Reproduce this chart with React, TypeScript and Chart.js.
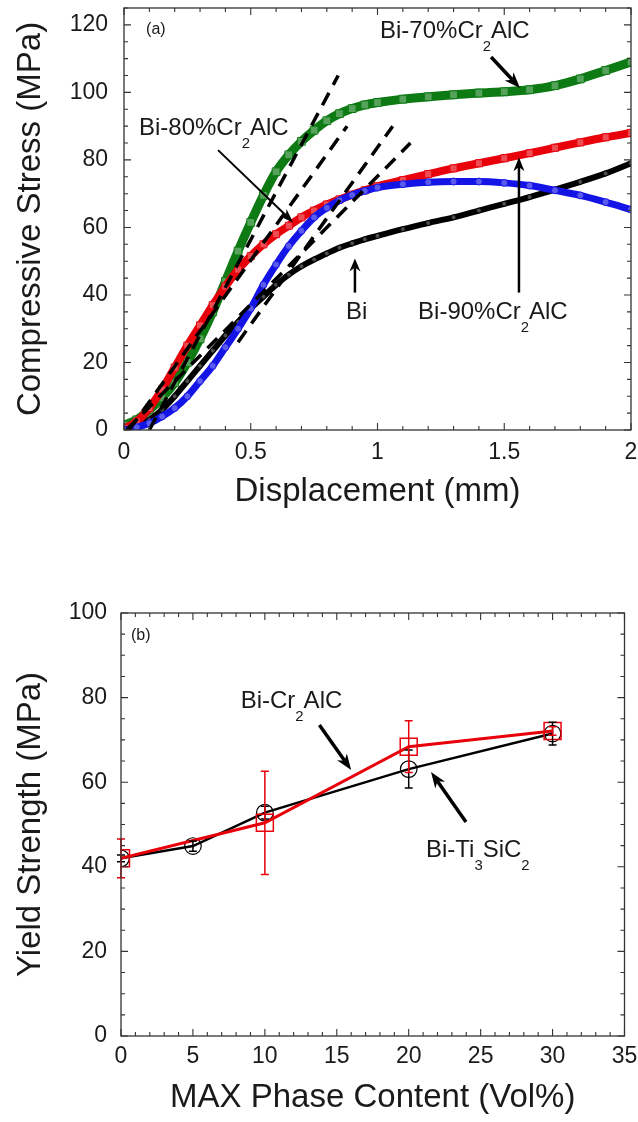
import React, { useEffect, useRef } from "react";
import { Chart, registerables } from "chart.js";

Chart.register(...registerables);

const FONT = "'Liberation Sans', Arial, Helvetica, sans-serif";
const GREEN = "#0d7a14";
const RED = "#e8000b";
const BLUE = "#1414e6";
const BLACK = "#000000";
const INK = "#1a1a1a";

// ---------- Panel (a): compressive stress vs displacement ----------
const displacementMm = [0, 0.05, 0.1, 0.15, 0.2, 0.25, 0.3, 0.35, 0.4, 0.45, 0.5, 0.55, 0.6, 0.65, 0.7, 0.75, 0.8, 0.85, 0.9, 0.95, 1.0, 1.1, 1.2, 1.3, 1.4, 1.5, 1.6, 1.7, 1.8, 1.9, 2.0];
const stressBi = [0, 1, 3, 6, 10, 14.5, 19, 23.5, 28, 32, 36, 39.5, 43, 46, 48.5, 50.5, 52.3, 54, 55.3, 56.5, 57.5, 59.5, 61.3, 63, 65, 67, 69, 71.2, 73.5, 76, 79];
const stress70Cr2AlC = [1.5, 3, 6, 9.5, 14, 20, 27, 35, 44, 53, 61.5, 69.5, 76.5, 81.5, 85.5, 88.8, 91.6, 93.7, 95.2, 96.3, 97, 98, 98.7, 99.3, 99.8, 100.2, 100.8, 102, 104, 106.5, 109];
const stress80Cr2AlC = [0.5, 2.5, 6.5, 12, 18.5, 25, 31, 37, 42.5, 47.5, 51.5, 55, 58, 60.5, 63, 65, 66.8, 68.3, 69.7, 71, 72.2, 74, 75.8, 77.5, 79, 80.5, 82, 83.6, 85.2, 86.7, 88];
const stress90Cr2AlC = [0, 0.8, 2, 4, 6.5, 10, 14.5, 19, 24.5, 30, 36, 43, 49, 54.5, 59, 63, 65.8, 68, 69.6, 70.8, 71.8, 72.8, 73.4, 73.6, 73.6, 73.2, 72.4, 71, 69.5, 67.5, 65.3];

// dashed tangent lines
const tangentStartX = [0.1, 0.02, 0.45, 0.01];
const tangentStartY = [0, 0, 26, 0];
const tangentEndX = [0.845, 0.88, 1.06, 1.13];
const tangentEndY = [105, 90, 90, 85];

const displacementTicks = [0, 0.5, 1, 1.5, 2];
const stressTicks = [0, 20, 40, 60, 80, 100, 120];

// ---------- Panel (b): yield strength vs MAX phase content ----------
const contentTi3SiC2 = [0, 5, 10, 20, 30];
const yieldTi3SiC2 = [42, 44.9, 52.8, 63.1, 71.5];
const errTi3SiC2 = [0.8, 1.2, 1.5, 4.5, 2.7];
const contentCr2AlC = [0, 10, 20, 30];
const yieldCr2AlC = [42, 50.4, 68.4, 72.1];
const errCr2AlC = [4.6, 12.2, 6.1, 1.0];

const contentTicks = [0, 5, 10, 15, 20, 25, 30, 35];
const yieldTicks = [0, 20, 40, 60, 80, 100];

type Txt = { text: string; x: number; y: number; size: number };
type Arw = { x1: number; y1: number; x2: number; y2: number; w: number; head: number; headW: number };
type Err = { xs: number[]; ys: number[]; es: number[]; color: string; width: number; cap: number };

const textsA: Txt[] = [
  { text: "(a)", x: 0.087, y: 117.3, size: 16 },
  { text: "Bi-70%Cr_2AlC", x: 1.01, y: 116.1, size: 24 },
  { text: "Bi-80%Cr_2AlC", x: 0.059, y: 87.3, size: 24 },
  { text: "Bi", x: 0.876, y: 33, size: 24 },
  { text: "Bi-90%Cr_2AlC", x: 1.16, y: 33, size: 24 },
];
const arrowsA: Arw[] = [
  { x1: 1.448, y1: 110.5, x2: 1.562, y2: 101.3, w: 3.5, head: 16, headW: 6 },
  { x1: 0.371, y1: 82.9, x2: 0.667, y2: 61.5, w: 2, head: 14, headW: 5 },
  { x1: 0.911, y1: 40.7, x2: 0.911, y2: 50.8, w: 2.5, head: 13, headW: 5.5 },
  { x1: 1.558, y1: 40.7, x2: 1.558, y2: 80.8, w: 2.5, head: 14, headW: 5.5 },
];
const textsB: Txt[] = [
  { text: "(b)", x: 0.69, y: 93.6, size: 16 },
  { text: "Bi-Cr_2AlC", x: 8.32, y: 77.5, size: 24 },
  { text: "Bi-Ti_3SiC_2", x: 21.2, y: 42.3, size: 24 },
];
const arrowsB: Arw[] = [
  { x1: 13.79, y1: 73.5, x2: 16.0, y2: 62.9, w: 3.5, head: 16, headW: 6 },
  { x1: 23.98, y1: 50.6, x2: 21.55, y2: 62.4, w: 3.5, head: 16, headW: 6 },
];

function drawRich(ctx: CanvasRenderingContext2D, s: string, x: number, y: number, size: number) {
  const parts = s.split(/_(\d)/);
  let cx = x;
  parts.forEach((p, i) => {
    if (!p) return;
    const sub = i % 2 === 1;
    const fs = sub ? size * 0.62 : size;
    ctx.font = `${fs}px ${FONT}`;
    ctx.fillText(p, cx, sub ? y + size * 0.55 : y);
    cx += ctx.measureText(p).width;
  });
}

function drawArrow(ctx: CanvasRenderingContext2D, x1: number, y1: number, x2: number, y2: number, w: number, head: number, headW: number) {
  const ang = Math.atan2(y2 - y1, x2 - x1);
  const c = Math.cos(ang), s = Math.sin(ang);
  const nx = x2 - head * 0.7 * c, ny = y2 - head * 0.7 * s;
  ctx.lineWidth = w;
  ctx.beginPath();
  ctx.moveTo(x1, y1);
  ctx.lineTo(nx, ny);
  ctx.stroke();
  const bx = x2 - head * c, by = y2 - head * s;
  ctx.beginPath();
  ctx.moveTo(x2, y2);
  ctx.lineTo(bx - headW * s, by + headW * c);
  ctx.lineTo(nx, ny);
  ctx.lineTo(bx + headW * s, by - headW * c);
  ctx.closePath();
  ctx.fill();
}

function makeDecor(cfg: { xMinor: number; xMajor: number; yMinor: number; yMajor: number; texts: Txt[]; arrows: Arw[]; errors?: Err[] }) {
  return {
    id: "decor",
    afterDatasetsDraw(chart: any) {
      const { ctx, chartArea: a, scales } = chart;
      const xs = scales.x, ys = scales.y;
      ctx.save();
      (cfg.errors || []).forEach((e) => {
        ctx.strokeStyle = e.color;
        ctx.lineWidth = e.width;
        e.xs.forEach((xv, i) => {
          const px = xs.getPixelForValue(xv);
          const top = ys.getPixelForValue(e.ys[i] + e.es[i]);
          const bot = ys.getPixelForValue(e.ys[i] - e.es[i]);
          ctx.beginPath();
          ctx.moveTo(px, top); ctx.lineTo(px, bot);
          ctx.moveTo(px - e.cap, top); ctx.lineTo(px + e.cap, top);
          ctx.moveTo(px - e.cap, bot); ctx.lineTo(px + e.cap, bot);
          ctx.stroke();
        });
      });
      ctx.strokeStyle = "#333";
      ctx.lineWidth = 1.3;
      ctx.strokeRect(a.left, a.top, a.right - a.left, a.bottom - a.top);
      ctx.lineWidth = 1.1;
      ctx.beginPath();
      const isMajor = (v: number, m: number) => Math.abs(v / m - Math.round(v / m)) < 1e-6;
      for (let v = xs.min; v <= xs.max + 1e-9; v += cfg.xMinor) {
        const px = xs.getPixelForValue(v);
        const len = isMajor(v, cfg.xMajor) ? 7 : 4;
        ctx.moveTo(px, a.bottom); ctx.lineTo(px, a.bottom - len);
        ctx.moveTo(px, a.top); ctx.lineTo(px, a.top + len);
      }
      for (let v = ys.min; v <= ys.max + 1e-9; v += cfg.yMinor) {
        const py = ys.getPixelForValue(v);
        const len = isMajor(v, cfg.yMajor) ? 7 : 4;
        ctx.moveTo(a.left, py); ctx.lineTo(a.left + len, py);
        ctx.moveTo(a.right, py); ctx.lineTo(a.right - len, py);
      }
      ctx.stroke();
      ctx.fillStyle = INK;
      ctx.textAlign = "left";
      ctx.textBaseline = "alphabetic";
      cfg.texts.forEach((t) => {
        drawRich(ctx, t.text, xs.getPixelForValue(t.x), ys.getPixelForValue(t.y), t.size);
      });
      ctx.strokeStyle = BLACK;
      ctx.fillStyle = BLACK;
      cfg.arrows.forEach((r) => {
        drawArrow(ctx, xs.getPixelForValue(r.x1), ys.getPixelForValue(r.y1), xs.getPixelForValue(r.x2), ys.getPixelForValue(r.y2), r.w, r.head, r.headW);
      });
      ctx.restore();
    },
  };
}

function axisCommon(ticks: number[], tickPad: number) {
  return {
    type: "linear",
    grid: { display: false, drawTicks: false },
    border: { display: false },
    ticks: {
      padding: tickPad,
      font: { family: FONT, size: 23 },
      color: INK,
      autoSkip: false,
      maxRotation: 0,
      callback: (v: number) => String(v),
    },
    afterBuildTicks: (s: any) => {
      s.ticks = ticks.map((v) => ({ value: v }));
    },
  };
}

function curve(label: string, ys: number[], color: string, width: number, style: string, r: number, order: number) {
  return {
    label,
    data: displacementMm.map((x, i) => ({ x, y: ys[i] })),
    showLine: true,
    borderColor: color,
    borderWidth: width,
    cubicInterpolationMode: "monotone",
    pointStyle: style,
    pointRadius: r,
    pointBorderColor: color,
    pointBackgroundColor: "rgba(255,255,255,0.3)",
    pointBorderWidth: 1,
    order,
  };
}

function configA() {
  const tangents = tangentStartX.map((x0, i) => ({
    label: "tangent" + i,
    data: [{ x: x0, y: tangentStartY[i] }, { x: tangentEndX[i], y: tangentEndY[i] }],
    showLine: true,
    borderColor: BLACK,
    borderWidth: 3.5,
    borderDash: [14, 9],
    pointRadius: 0,
    order: 0,
  }));
  return {
    type: "scatter",
    data: {
      datasets: [
        ...tangents,
        curve("Bi-80%Cr2AlC", stress80Cr2AlC, RED, 8, "rect", 5, 2),
        curve("Bi-90%Cr2AlC", stress90Cr2AlC, BLUE, 7, "circle", 3.5, 1),
        curve("Bi", stressBi, BLACK, 6, "circle", 2.5, 3),
        curve("Bi-70%Cr2AlC", stress70Cr2AlC, GREEN, 9, "rect", 5.5, 4),
      ],
    },
    options: {
      animation: false,
      responsive: false,
      devicePixelRatio: 1,
      layout: { padding: { left: 0, right: 7, top: 8, bottom: 0 } },
      plugins: { legend: { display: false }, tooltip: { enabled: false } },
      scales: {
        x: {
          ...axisCommon(displacementTicks, 9),
          position: "bottom",
          min: 0,
          max: 2,
          afterFit: (s: any) => { s.height = 90; s.paddingLeft = 0; s.paddingRight = 0; },
          title: { display: true, text: "Displacement (mm)", font: { family: FONT, size: 33 }, color: INK, padding: { top: 0, bottom: 8 } },
        },
        y: {
          ...axisCommon(stressTicks, 16),
          position: "left",
          min: 0,
          max: 125,
          afterFit: (s: any) => { s.width = 124; s.paddingTop = 0; s.paddingBottom = 0; },
          title: { display: true, text: "Compressive Stress (MPa)", font: { family: FONT, size: 33 }, color: INK, padding: { top: 11, bottom: 0 } },
        },
      },
    },
    plugins: [makeDecor({ xMinor: 0.1, xMajor: 0.5, yMinor: 5, yMajor: 20, texts: textsA, arrows: arrowsA })],
  };
}

function configB() {
  return {
    type: "scatter",
    data: {
      datasets: [
        {
          label: "Bi-Cr2AlC",
          data: contentCr2AlC.map((x, i) => ({ x, y: yieldCr2AlC[i] })),
          showLine: true,
          borderColor: RED,
          borderWidth: 3,
          pointStyle: "rect",
          pointRadius: 12,
          pointBorderColor: RED,
          pointBackgroundColor: "rgba(0,0,0,0)",
          pointBorderWidth: 1.5,
          order: 0,
        },
        {
          label: "Bi-Ti3SiC2",
          data: contentTi3SiC2.map((x, i) => ({ x, y: yieldTi3SiC2[i] })),
          showLine: true,
          borderColor: BLACK,
          borderWidth: 2.5,
          pointStyle: "circle",
          pointRadius: 8.3,
          pointBorderColor: BLACK,
          pointBackgroundColor: "rgba(0,0,0,0)",
          pointBorderWidth: 1.2,
          order: 1,
        },
      ],
    },
    options: {
      animation: false,
      responsive: false,
      devicePixelRatio: 1,
      layout: { padding: { left: 0, right: 11, top: 53, bottom: 0 } },
      plugins: { legend: { display: false }, tooltip: { enabled: false } },
      scales: {
        x: {
          ...axisCommon(contentTicks, 7),
          position: "bottom",
          min: 0,
          max: 35,
          afterFit: (s: any) => { s.height = 86; s.paddingLeft = 0; s.paddingRight = 0; },
          title: { display: true, text: "MAX Phase Content (Vol%)", font: { family: FONT, size: 33 }, color: INK, padding: { top: 0, bottom: 4 } },
        },
        y: {
          ...axisCommon(yieldTicks, 14),
          position: "left",
          min: 0,
          max: 100,
          afterFit: (s: any) => { s.width = 121; s.paddingTop = 0; s.paddingBottom = 0; },
          title: { display: true, text: "Yield Strength (MPa)", font: { family: FONT, size: 33 }, color: INK, padding: { top: 11, bottom: 0 } },
        },
      },
    },
    plugins: [
      makeDecor({
        xMinor: 1, xMajor: 5, yMinor: 5, yMajor: 20, texts: textsB, arrows: arrowsB,
        errors: [
          { xs: contentTi3SiC2, ys: yieldTi3SiC2, es: errTi3SiC2, color: BLACK, width: 1.5, cap: 4 },
          { xs: contentCr2AlC, ys: yieldCr2AlC, es: errCr2AlC, color: RED, width: 1.5, cap: 4 },
        ],
      }),
    ],
  };
}

function ChartCanvas(props: { make: () => any; top: number; width: number; height: number }) {
  const ref = useRef<HTMLCanvasElement>(null);
  useEffect(() => {
    const chart = new Chart(ref.current as HTMLCanvasElement, props.make() as any);
    return () => chart.destroy();
  }, []);
  return (
    <canvas
      ref={ref}
      width={props.width}
      height={props.height}
      style={{ position: "absolute", left: 0, top: props.top, width: props.width, height: props.height }}
    />
  );
}

export default function App() {
  return (
    <div style={{ position: "absolute", left: 0, top: 0, width: 638, height: 1122, background: "#fff" }}>
      <ChartCanvas make={configA} top={0} width={638} height={520} />
      <ChartCanvas make={configB} top={560} width={638} height={562} />
    </div>
  );
}
